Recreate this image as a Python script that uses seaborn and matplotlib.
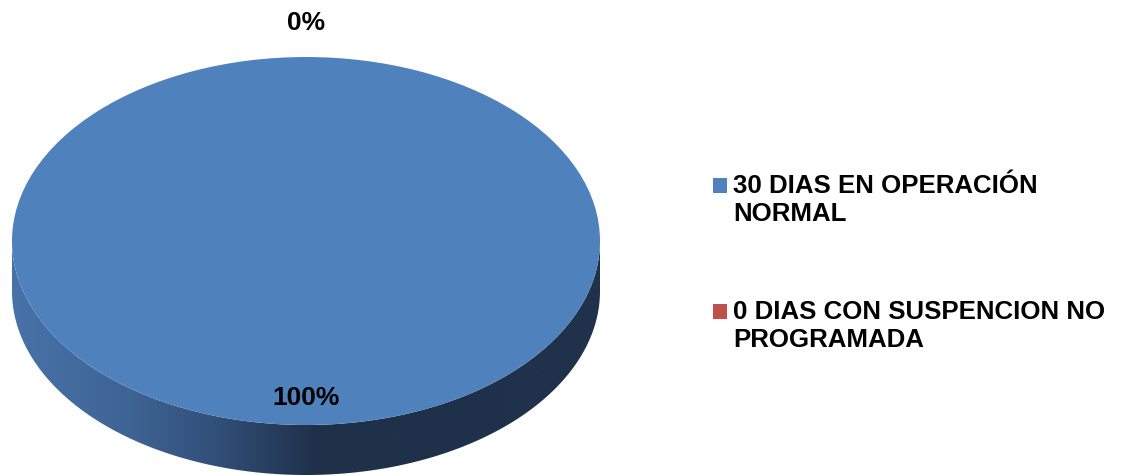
import numpy as np
import matplotlib
matplotlib.use("Agg")
import matplotlib.pyplot as plt
from matplotlib.patches import Polygon, Rectangle
from matplotlib.colors import LinearSegmentedColormap
from matplotlib.legend_handler import HandlerPatch
import seaborn as sns

# ---- data ----
categories = ["30 DIAS EN OPERACIÓN\nNORMAL", "0 DIAS CON SUSPENCION NO\nPROGRAMADA"]
values = [30, 0]
colors = ["#4F81BD", "#C0504D"]

sns.set_theme(style="white")
plt.rcParams["font.family"] = ["Liberation Sans", "DejaVu Sans"]
plt.rcParams["text.color"] = "black"

W, H = 1130, 476
fig = plt.figure(figsize=(W / 100, H / 100), dpi=100)
ax = fig.add_axes([0, 0, 1, 1])

# pixel geometry of the ellipse
cx, cy, a, b = 306.0, 241.0, 294.0, 184.0
depth = 50.0 / b  # side depth in data units

# side of the 3D pie (drawn first)
t = np.linspace(np.pi, 2 * np.pi, 200)
upper = np.column_stack([np.cos(t), np.sin(t)])
lower = np.column_stack([np.cos(t[::-1]), np.sin(t[::-1]) - depth])
side = Polygon(np.vstack([upper, lower]), closed=True, facecolor="none", edgecolor="none")
ax.add_patch(side)
cmap = LinearSegmentedColormap.from_list(
    "side",
    [(0.0, "#4872A8"), (0.2, "#3E6494"), (0.35, "#314F78"), (0.52, "#1F3049"), (1.0, "#1F324C")],
)
grad = np.linspace(0, 1, 256).reshape(1, -1)
im = ax.imshow(grad, extent=[-1, 1, -1 - depth, 0], cmap=cmap, aspect="auto", zorder=1)
im.set_clip_path(side)

# top face
wedges, texts, autotexts = ax.pie(
    values,
    colors=colors,
    startangle=90,
    counterclock=False,
    radius=1,
    autopct=lambda p: f"{p:.0f}%",
    pctdistance=0.85,
    wedgeprops=dict(linewidth=0, zorder=2),
    textprops=dict(fontsize=19, fontweight="bold", color="black", family="Liberation Sans"),
)
for w in wedges:
    w.set_zorder(2)
autotexts[0].set_position((0, (cy - 398) / b))
autotexts[1].set_position((0, (cy - 23) / b))
for at in autotexts:
    at.set_zorder(5)
    at.set_ha("center")
    at.set_va("center")
    at.set_fontweight("bold")
    at.set_color("black")

ax.set_aspect("auto")
ax.set_xlim((0 - cx) / a, (W - cx) / a)
ax.set_ylim(-(H - cy) / b, cy / b)
ax.axis("off")


class TopHandler(HandlerPatch):
    def create_artists(self, legend, orig_handle, xdescent, ydescent, width, height, fontsize, trans):
        r = Rectangle((-xdescent, -ydescent + 10.5), width, height,
                      facecolor=orig_handle.get_facecolor(), edgecolor="none", transform=trans)
        return [r]


leg = fig.legend(
    wedges, categories,
    loc="upper left",
    bbox_to_anchor=(713 / W, 1 - 174 / H),
    frameon=False,
    prop=dict(family="Liberation Sans", weight="bold", size=18.6),
    handlelength=0.54, handleheight=0.54, handletextpad=0.24,
    labelspacing=2.87, borderpad=0, borderaxespad=0,
    handler_map={w: TopHandler() for w in wedges},
)
for txt in leg.get_texts():
    txt.set_linespacing(1.2)
    txt.set_color("black")

fig.savefig("out.png", dpi=100)
